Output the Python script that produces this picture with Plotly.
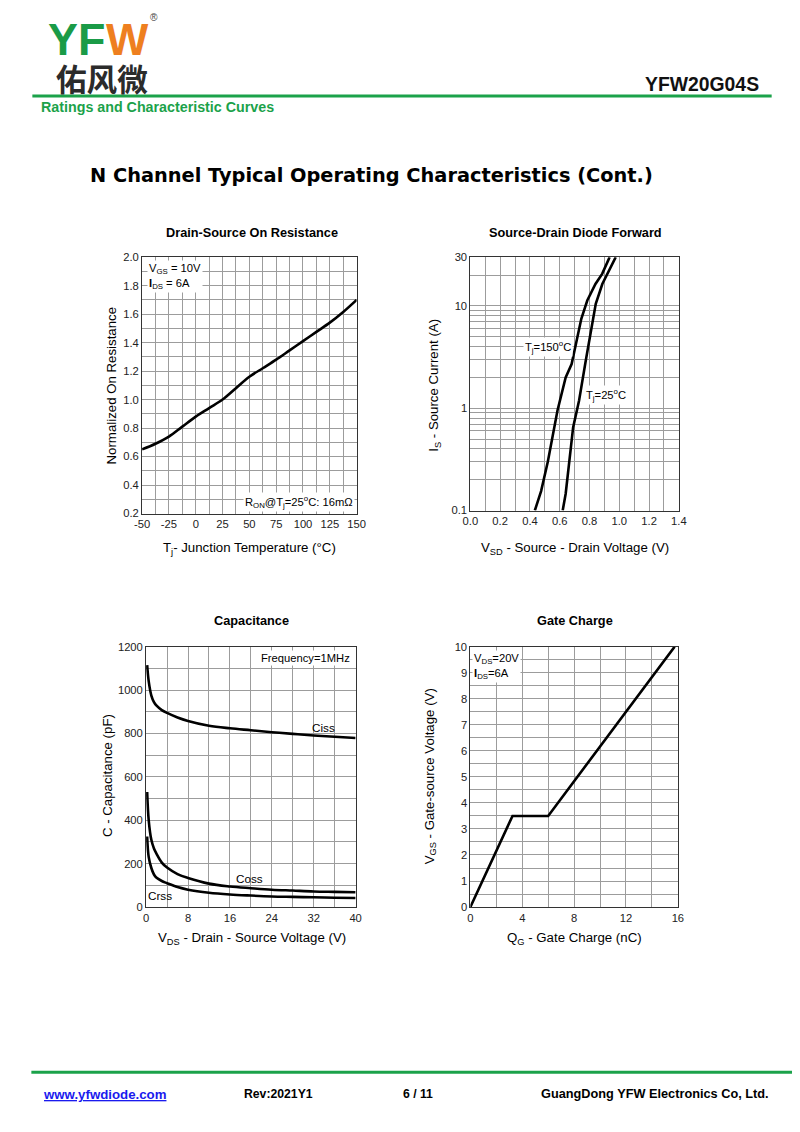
import plotly.graph_objects as go
import math

W, H = 800, 1132
# measured placement of the figure inside the photographed window
SX, OX = 0.981, 15.6
SY, OY = 0.988, 14.2

# ---------------- data ----------------
temp_c = [-50, -37.5, -25, -12.5, 0, 12.5, 25, 37.5, 50, 62.5, 75, 87.5, 100, 112.5, 125, 137.5, 150]
r_norm = [0.65, 0.69, 0.74, 0.81, 0.88, 0.94, 1.0, 1.08, 1.16, 1.22, 1.28, 1.345, 1.41, 1.475, 1.54, 1.615, 1.70]
temp_ticks = [-50, -25, 0, 25, 50, 75, 100, 125, 150]
temp_ticktext = ["-50", "-25", "0", "25", "50", "75", "100", "125", "150"]

vsd_150 = [0.433, 0.475, 0.52, 0.585, 0.64, 0.68, 0.745, 0.785, 0.84, 0.885, 0.935]
is_150 = [0.1, 0.155, 0.3, 0.95, 2.0, 2.7, 7.5, 11.3, 16.4, 20.6, 30]
vsd_25 = [0.62, 0.64, 0.69, 0.73, 0.775, 0.808, 0.842, 0.886, 0.92, 0.976]
is_25 = [0.1, 0.146, 0.65, 1.19, 2.93, 5.76, 10.5, 16.4, 20.6, 30]
is_ticks = [0.1, 1, 10, 30]
is_ticktext = ["0.1", "1", "10", "30"]
is_minor = [0.2, 0.3, 0.4, 0.5, 0.6, 0.7, 0.8, 0.9, 2, 3, 4, 5, 6, 7, 8, 9, 20]

vds_cap = [0.2, 0.5, 1, 1.5, 2, 3, 4, 6, 8, 12, 16, 20, 24, 28, 32, 36, 40]
ciss = [1115, 1040, 975, 945, 928, 908, 895, 874, 858, 836, 824, 815, 806, 798, 791, 785, 779]
coss = [530, 400, 310, 270, 245, 205, 182, 152, 134, 108, 95, 87, 80, 76, 72, 70, 68]
crss = [325, 230, 180, 150, 135, 120, 110, 92, 80, 66, 58, 53, 49, 47, 45, 43, 42]

qg_nc = [0, 3.25, 6.0, 15.75]
vgs_v = [0, 3.5, 3.5, 10]

FONT = "Liberation Sans, Arial, sans-serif"
GREEN = "#1ba24a"
GRID = "#9c9c9c"


def px(x):
    return ((x - OX) / SX) / W


def py(y):
    return 1 - ((y - OY) / SY) / H


def fs(s):
    return s / SX


fig = go.Figure()
line = dict(color="#000000", width=2.6)
fig.add_trace(go.Scatter(x=temp_c, y=r_norm, mode="lines", line=line, xaxis="x", yaxis="y",
                         line_shape="spline"))
fig.add_trace(go.Scatter(x=vsd_150, y=is_150, mode="lines", line=line, xaxis="x2", yaxis="y2"))
fig.add_trace(go.Scatter(x=vsd_25, y=is_25, mode="lines", line=line, xaxis="x2", yaxis="y2"))
for c in (ciss, coss, crss):
    fig.add_trace(go.Scatter(x=vds_cap, y=c, mode="lines", line=line, xaxis="x3", yaxis="y3",
                             line_shape="spline"))
fig.add_trace(go.Scatter(x=qg_nc, y=vgs_v, mode="lines", line=line, xaxis="x4", yaxis="y4"))

TICKFONT = dict(family=FONT, size=fs(11), color="#222222")


def ax(domain, anchor, rng, dtick, minor, tickformat=None, **kw):
    d = dict(domain=domain, anchor=anchor, range=rng, dtick=dtick, tick0=rng[0],
             showgrid=True, gridcolor=GRID, gridwidth=1,
             showline=True, linecolor="#333333", linewidth=1, mirror=True, ticks="",
             zeroline=False, fixedrange=True, tickfont=TICKFONT,
             minor=dict(showgrid=True, gridcolor=GRID, gridwidth=1, **minor))
    if tickformat:
        d["tickformat"] = tickformat
    d.update(kw)
    return d


# plot areas in page pixels (left, right, top, bottom)
c1 = (142, 357, 257, 513)
c2 = (471, 680, 257, 510)
c3 = (146, 356, 646, 906)
c4 = (471, 679, 646, 906)


def dom(c):
    return [px(c[0]), px(c[1])], [py(c[3]), py(c[2])]


d1x, d1y = dom(c1)
d2x, d2y = dom(c2)
d3x, d3y = dom(c3)
d4x, d4y = dom(c4)

fig.update_layout(
    width=W, height=H, autosize=False,
    margin=dict(l=0, r=0, t=0, b=0),
    paper_bgcolor="white", plot_bgcolor="white",
    showlegend=False,
    xaxis=ax(d1x, "y", [-50, 150], 25, dict(dtick=12.5, tick0=-50),
             tickmode="array", tickvals=temp_ticks, ticktext=temp_ticktext),
    yaxis=ax(d1y, "x", [0.2, 2.0], 0.2, dict(dtick=0.1, tick0=0.2), ".1f"),
    xaxis2=ax(d2x, "y2", [0, 1.4], 0.2, dict(dtick=0.1, tick0=0), ".1f"),
    yaxis2=dict(domain=d2y, anchor="x2", type="log", range=[-1, math.log10(30)],
                tickmode="array", tickvals=is_ticks, ticktext=is_ticktext,
                showgrid=True, gridcolor=GRID, gridwidth=1,
                showline=True, linecolor="#333333", linewidth=1, mirror=True, ticks="",
                zeroline=False, fixedrange=True, tickfont=TICKFONT,
                minor=dict(tickmode="array", tickvals=is_minor, showgrid=True,
                           gridcolor=GRID, gridwidth=1)),
    xaxis3=ax(d3x, "y3", [0, 40], 8, dict(dtick=4, tick0=0)),
    yaxis3=ax(d3y, "x3", [0, 1200], 200, dict(dtick=100, tick0=0)),
    xaxis4=ax(d4x, "y4", [0, 16], 4, dict(dtick=2, tick0=0)),
    yaxis4=ax(d4y, "x4", [0, 10], 1, dict(dtick=0.5, tick0=0)),
)

ann = []


def text(x, y, t, size=12, color="#000", bold=False, family=FONT, xanchor="center",
         yanchor="middle", textangle=0, bg=None, align="center", **kw):
    if bold:
        t = "<b>" + t + "</b>"
    a = dict(x=px(x), y=py(y), xref="paper", yref="paper", text=t, showarrow=False,
             font=dict(family=family, size=fs(size), color=color), xanchor=xanchor, yanchor=yanchor,
             textangle=textangle, align=align)
    if bg:
        a["bgcolor"] = bg
    a.update(kw)
    ann.append(a)


# header
LOGO = "Liberation Sans Narrow, Arial Narrow, Liberation Sans, Arial"
text(46, 40, "YF", size=44, color="#1a9b47", bold=True, xanchor="left", family=LOGO)
text(104, 40, "W", size=44, color="#ee7f1f", bold=True, xanchor="left", family=LOGO)
text(154, 18, "®", size=10, color="#444")
text(54, 78, "佑风微", size=30, color="#2b2b2b", bold=True,
     family="Noto Sans CJK SC", xanchor="left")
text(762, 84, "YFW20G04S", size=19, color="#111", bold=True, xanchor="right")
text(39, 107, "Ratings and Characteristic Curves", size=14, color=GREEN, bold=True, xanchor="left")
text(88, 175, "N Channel Typical Operating Characteristics (Cont.)", size=19, color="#000",
     bold=True, family="DejaVu Sans, Verdana, sans-serif", xanchor="left")

# chart titles
text(252, 232, "Drain-Source On Resistance", size=12.5, bold=True)
text(576, 232, "Source-Drain Diode Forward", size=12.5, bold=True)
text(252, 620, "Capacitance", size=12.5, bold=True)
text(576, 620, "Gate Charge", size=12.5, bold=True)

# axis titles
text(111, 385, "Normalized On Resistance", size=13, textangle=-90)
text(250, 548, "T<sub>j</sub>- Junction Temperature (°C)", size=13)
text(435, 385, "I<sub>S</sub> - Source Current (A)", size=13, textangle=-90)
text(576, 548, "V<sub>SD</sub> - Source - Drain Voltage (V)", size=13)
text(108, 775, "C - Capacitance (pF)", size=13, textangle=-90)
text(252, 937, "V<sub>DS</sub> - Drain - Source Voltage (V)", size=13)
text(431, 775, "V<sub>GS</sub> - Gate-source Voltage (V)", size=13, textangle=-90)
text(575, 937, "Q<sub>G</sub> - Gate Charge (nC)", size=13)

# in-plot notes
text(147, 260, "V<sub>GS</sub> = 10V<br><b>I</b><sub>DS</sub> = 6A", size=11, xanchor="left",
     yanchor="top", bg="white", align="left")
text(355, 502, "R<sub>ON</sub>@T<sub>j</sub>=25<sup>o</sup>C: 16mΩ", size=11, xanchor="right", bg="white")
text(549, 347, "T<sub>j</sub>=150<sup>o</sup>C", size=11, bg="white")
text(607, 395, "T<sub>j</sub>=25<sup>o</sup>C", size=11, bg="white")
text(352, 657, "Frequency=1MHz", size=11, xanchor="right", bg="white")
text(324, 727, "Ciss", size=11.5)
text(250, 877, "Coss", size=11.5)
text(160, 894, "Crss", size=11.5)
text(473, 649, "V<sub>DS</sub>=20V<br><b>I</b><sub>DS</sub>=6A", size=11, xanchor="left",
     yanchor="top", bg="white", align="left")

# footer
text(41, 1093, "<u>www.yfwdiode.com</u>", size=13, color="#1a1aee", bold=True, xanchor="left")
text(242, 1093, "Rev:2021Y1", size=12, bold=True, xanchor="left")
text(401, 1093, "6 / 11", size=12, bold=True, xanchor="left")
text(772, 1092, "GuangDong YFW Electronics Co, Ltd.", size=12.5, bold=True, xanchor="right")

fig.update_layout(annotations=ann)

shapes = [
    dict(type="line", xref="paper", yref="paper", x0=px(32), x1=px(773), y0=py(96), y1=py(96),
         line=dict(color=GREEN, width=3)),
    dict(type="line", xref="paper", yref="paper", x0=px(31), x1=1, y0=py(1071), y1=py(1071),
         line=dict(color=GREEN, width=3)),
]
fig.update_layout(shapes=shapes)

fig.write_html("out.html")
